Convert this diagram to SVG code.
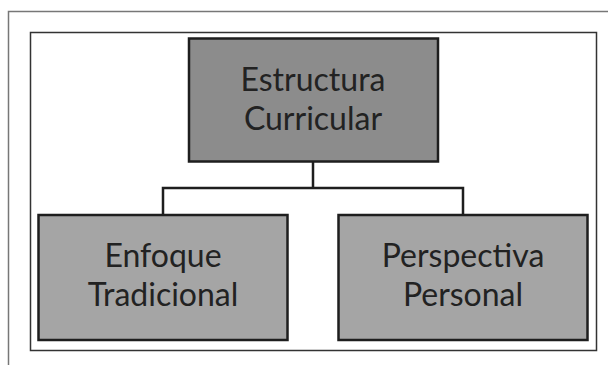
<svg xmlns="http://www.w3.org/2000/svg" width="608" height="365" viewBox="0 0 608 365">
<style>
.box{stroke:#1e1e1e;stroke-width:2.5}
.t{font-family:Lato,"Open Sans","Liberation Sans",sans-serif;font-size:32px;fill:#222;text-anchor:middle}
.c{fill:none;stroke:#1e1e1e;stroke-width:2.5}
</style>
<rect width="608" height="365" fill="#fff"/>
<path d="M8.5 375 V11.5 H620" fill="none" stroke="#777" stroke-width="1.5"/>
<rect x="30.5" y="32.5" width="566" height="318" fill="none" stroke="#333" stroke-width="1.5"/>
<g id="connectors">
<path class="c" d="M313 162 V188 M163 214 V188 H463 V214"/>
</g>
<g id="n1">
<rect class="box" x="189" y="38.5" width="249" height="123" fill="#8c8c8c"/>
<text class="t" x="313" y="91">Estructura</text>
<text class="t" x="313" y="130">Curricular</text>
</g>
<g id="n2">
<rect class="box" x="38.5" y="215" width="249" height="125" fill="#a5a5a5"/>
<text class="t" x="163" y="267">Enfoque</text>
<text class="t" x="163" y="306">Tradicional</text>
</g>
<g id="n3">
<rect class="box" x="338.5" y="215" width="249" height="125" fill="#a5a5a5"/>
<text class="t" x="463" y="267">Perspectiva</text>
<text class="t" x="463" y="306">Personal</text>
</g>
</svg>
